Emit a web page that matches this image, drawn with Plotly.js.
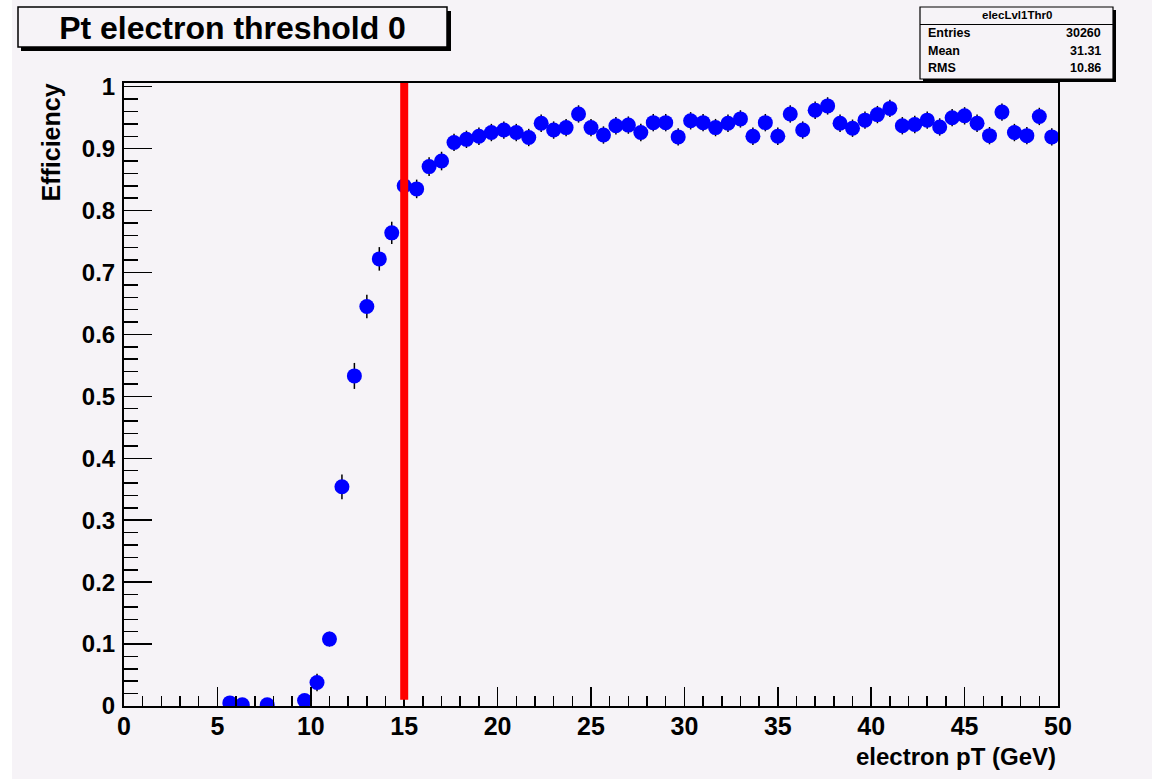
<!DOCTYPE html>
<html>
<head>
<meta charset="utf-8">
<script src="https://cdn.plot.ly/plotly-3.0.1.min.js"></script>
<style>html,body{margin:0;padding:0;background:#ffffff;}#chart{width:1165px;height:781px;}</style>
</head>
<body>
<div id="chart"></div>
<script>
// ---- data ----
var ptCenters = [5.667, 6.333, 7.667, 9.667, 10.333, 11.0, 11.667, 12.333, 13.0, 13.667,
  14.333, 15.0, 15.667, 16.333, 17.0, 17.667, 18.333, 19.0, 19.667, 20.333,
  21.0, 21.667, 22.333, 23.0, 23.667, 24.333, 25.0, 25.667, 26.333, 27.0,
  27.667, 28.333, 29.0, 29.667, 30.333, 31.0, 31.667, 32.333, 33.0, 33.667,
  34.333, 35.0, 35.667, 36.333, 37.0, 37.667, 38.333, 39.0, 39.667, 40.333,
  41.0, 41.667, 42.333, 43.0, 43.667, 44.333, 45.0, 45.667, 46.333, 47.0,
  47.667, 48.333, 49.0, 49.667];
var efficiency = [0.005, 0.002, 0.002, 0.009, 0.038, 0.108, 0.354, 0.533, 0.645, 0.722,
  0.764, 0.840, 0.835, 0.871, 0.880, 0.910, 0.915, 0.920, 0.926, 0.930,
  0.926, 0.918, 0.941, 0.930, 0.934, 0.956, 0.934, 0.922, 0.937, 0.938,
  0.926, 0.942, 0.942, 0.919, 0.945, 0.942, 0.934, 0.941, 0.948, 0.920,
  0.942, 0.920, 0.956, 0.930, 0.962, 0.969, 0.941, 0.933, 0.946, 0.955,
  0.965, 0.937, 0.939, 0.946, 0.935, 0.950, 0.953, 0.941, 0.921, 0.959,
  0.926, 0.921, 0.952, 0.919];
var effError = [0.004, 0.003, 0.003, 0.006, 0.014, 0.012, 0.020, 0.021, 0.019, 0.019,
  0.018, 0.016, 0.015, 0.015, 0.015, 0.014, 0.014, 0.014, 0.014, 0.014,
  0.014, 0.014, 0.014, 0.014, 0.014, 0.014, 0.014, 0.014, 0.014, 0.014,
  0.014, 0.014, 0.014, 0.014, 0.014, 0.014, 0.014, 0.014, 0.014, 0.014,
  0.014, 0.014, 0.014, 0.014, 0.014, 0.014, 0.014, 0.014, 0.014, 0.014,
  0.014, 0.014, 0.014, 0.014, 0.014, 0.014, 0.014, 0.014, 0.014, 0.014,
  0.014, 0.014, 0.014, 0.014];
var binHalfWidth = 0.3333;
var threshold = 15;
var titleText = "Pt electron threshold 0";
var xTitle = "electron pT (GeV)";
var yTitle = "Efficiency";
var statsName = "elecLvl1Thr0";
var statsLabels = ["Entries", "Mean", "RMS"];
var statsValues = ["30260", "31.31", "10.86"];

// ---- layout helpers (pixel -> paper) ----
var W = 1165, H = 781, L = 124, R = 107, T = 83, B = 75;
var PW = W - L - R, PH = H - T - B;
function px(x) { return (x - L) / PW; }
function py(y) { return (H - B - y) / PH; }
var BG = "#f6f3f7";
var FONT = "Liberation Sans, Arial, Helvetica, sans-serif";

var trace = {
  type: "scatter", mode: "markers",
  x: ptCenters, y: efficiency,
  marker: { color: "#0000ff", size: 15, symbol: "circle", line: { width: 0 } },
  error_y: { type: "data", array: effError, visible: true, color: "#000000", thickness: 1.5, width: 0 },
  error_x: { type: "constant", value: binHalfWidth, visible: true, color: "#000000", thickness: 1.5, width: 0 },
  hoverinfo: "x+y"
};

var shapes = [
  { type: "rect", xref: "paper", yref: "paper", x0: px(12), x1: px(1152), y0: py(0), y1: py(779), fillcolor: BG, line: { width: 0 }, layer: "below" },
  { type: "rect", xref: "paper", yref: "paper", x0: px(21), x1: px(451), y0: py(11), y1: py(51), fillcolor: "#000000", line: { width: 0 }, layer: "above" },
  { type: "rect", xref: "paper", yref: "paper", x0: px(18), x1: px(447), y0: py(7), y1: py(47), fillcolor: BG, line: { color: "#000000", width: 1.5 }, layer: "above" },
  { type: "rect", xref: "paper", yref: "paper", x0: px(923), x1: px(1116), y0: py(10), y1: py(82), fillcolor: "#000000", line: { width: 0 }, layer: "above" },
  { type: "rect", xref: "paper", yref: "paper", x0: px(920), x1: px(1113), y0: py(7), y1: py(79), fillcolor: BG, line: { color: "#000000", width: 1.2 }, layer: "above" },
  { type: "line", xref: "paper", yref: "paper", x0: px(920), x1: px(1113), y0: py(24.5), y1: py(24.5), line: { color: "#000000", width: 1.2 }, layer: "above" },
  { type: "line", xref: "x", yref: "y", x0: threshold, x1: threshold, y0: 0.01, y1: 1.01, line: { color: "#ff0000", width: 8 }, layer: "above" }
];

var annotations = [
  { xref: "paper", yref: "paper", x: 1, y: py(756), xanchor: "right", yanchor: "middle", showarrow: false,
    text: xTitle, font: { family: FONT, size: 24, color: "#000000", weight: 700 } },
  { xref: "paper", yref: "paper", x: px(50.5), y: py(82), xanchor: "center", yanchor: "top", showarrow: false, textangle: -90,
    text: yTitle, font: { family: FONT, size: 25, color: "#000000", weight: 700 } },
  { xref: "paper", yref: "paper", x: px(1016.5), y: py(15.5), xanchor: "center", yanchor: "middle", showarrow: false,
    text: statsName, font: { family: FONT, size: 11.5, color: "#000000", weight: 700 } }
];
var rowY = [33.5, 51.5, 68.5];
for (var i = 0; i < statsLabels.length; i++) {
  annotations.push({ xref: "paper", yref: "paper", x: px(926), y: py(rowY[i]), xanchor: "left", yanchor: "middle", showarrow: false,
    text: statsLabels[i], font: { family: FONT, size: 12.5, color: "#000000", weight: 700 } });
  annotations.push({ xref: "paper", yref: "paper", x: px(1103), y: py(rowY[i]), xanchor: "right", yanchor: "middle", showarrow: false,
    text: statsValues[i], font: { family: FONT, size: 12.5, color: "#000000", weight: 700 } });
}

var layout = {
  width: W, height: H,
  margin: { l: L, r: R, t: T, b: B, pad: 0 },
  paper_bgcolor: "#ffffff",
  plot_bgcolor: "rgba(0,0,0,0)",
  showlegend: false,
  title: { text: titleText, xref: "container", yref: "container", x: 232.5 / W, y: 1 - 28 / H,
    xanchor: "center", yanchor: "middle", font: { family: FONT, size: 32, color: "#000000", weight: 700 } },
  xaxis: {
    range: [0, 50], dtick: 5, tick0: 0, ticks: "inside", ticklen: 19, tickwidth: 1.5, tickcolor: "#000000",
    showline: true, linecolor: "#000000", linewidth: 2, mirror: true, showgrid: false, zeroline: false,
    tickfont: { family: FONT, size: 25, color: "#000000", weight: 700 },
    ticklabelstandoff: -3,
    minor: { dtick: 1, ticks: "inside", ticklen: 10, tickwidth: 1.5, tickcolor: "#000000", showgrid: false }
  },
  yaxis: {
    range: [0, 1.006], dtick: 0.1, tick0: 0, ticks: "inside", ticklen: 28, tickwidth: 1.5, tickcolor: "#000000",
    showline: true, linecolor: "#000000", linewidth: 2, mirror: true, showgrid: false, zeroline: false,
    tickfont: { family: FONT, size: 24, color: "#000000", weight: 700 },
    ticklabelstandoff: 2,
    minor: { dtick: 0.02, ticks: "inside", ticklen: 14, tickwidth: 1.5, tickcolor: "#000000", showgrid: false }
  },
  shapes: shapes,
  annotations: annotations
};

Plotly.newPlot("chart", [trace], layout, { staticPlot: true, displayModeBar: false });
</script>
</body>
</html>
